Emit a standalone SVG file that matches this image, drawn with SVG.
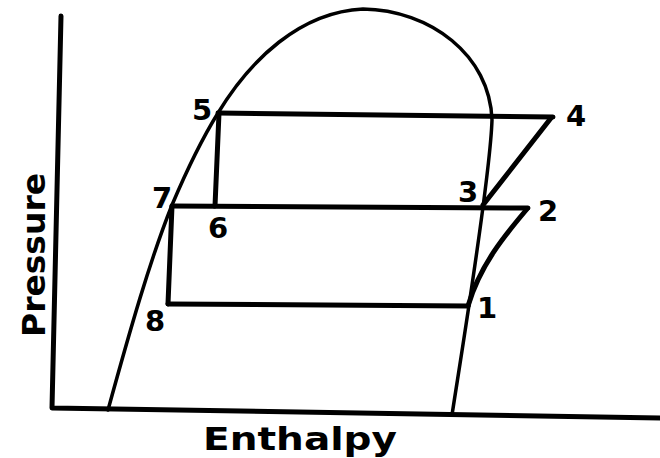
<svg xmlns="http://www.w3.org/2000/svg" width="660" height="458" viewBox="0 0 660 458">
<style>
.ax{fill:none;stroke:#000;stroke-width:5;stroke-linecap:round;stroke-linejoin:round}
.dome{fill:none;stroke:#000;stroke-width:3.5;stroke-linecap:round}
.cyc{fill:none;stroke:#000;stroke-width:5;stroke-linecap:round;stroke-linejoin:round}
.lbl{font-family:"DejaVu Sans","Liberation Sans",sans-serif;font-weight:bold;font-size:29px;fill:#000;text-anchor:middle}
.axt{font-family:"DejaVu Sans","Liberation Sans",sans-serif;font-weight:bold;font-size:32px;fill:#000}
</style>
<rect width="660" height="458" fill="#fff"/>
<g id="axes">
<path class="ax" d="M61,16 L52,408 L660,418"/>
<text class="axt" x="203" y="450" textLength="194" lengthAdjust="spacingAndGlyphs">Enthalpy</text>
<text class="axt" transform="translate(45,337) rotate(-90)" x="0" y="0" textLength="164" lengthAdjust="spacingAndGlyphs">Pressure</text>
</g>
<g id="dome">
<path class="dome" d="M108,410 C130,330 150,260 172,205 C186,172 200,142 218,113 C250,60 300,12 363,9 C430,10 490,55 492,120 C490,180 462,350 452,415"/>
</g>
<g id="connectors">
<path class="cyc" d="M218,113 L553,117"/>
<path class="cyc" d="M551,118 L483,205"/>
<path class="cyc" d="M219,113 L215,206"/>
<path class="cyc" d="M172,206 L528,208"/>
<path class="cyc" d="M527,209 C505,235 480,265 468,306"/>
<path class="cyc" d="M172,206 L168,304"/>
<path class="cyc" d="M168,304 L468,306"/>
</g>
<g id="p1"><text class="lbl" x="487" y="318">1</text></g>
<g id="p2"><text class="lbl" x="548" y="221">2</text></g>
<g id="p3"><text class="lbl" x="468" y="202">3</text></g>
<g id="p4"><text class="lbl" x="576" y="126">4</text></g>
<g id="p5"><text class="lbl" x="202" y="120">5</text></g>
<g id="p6"><text class="lbl" x="218" y="238">6</text></g>
<g id="p7"><text class="lbl" x="162" y="208">7</text></g>
<g id="p8"><text class="lbl" x="155" y="331">8</text></g>
</svg>
